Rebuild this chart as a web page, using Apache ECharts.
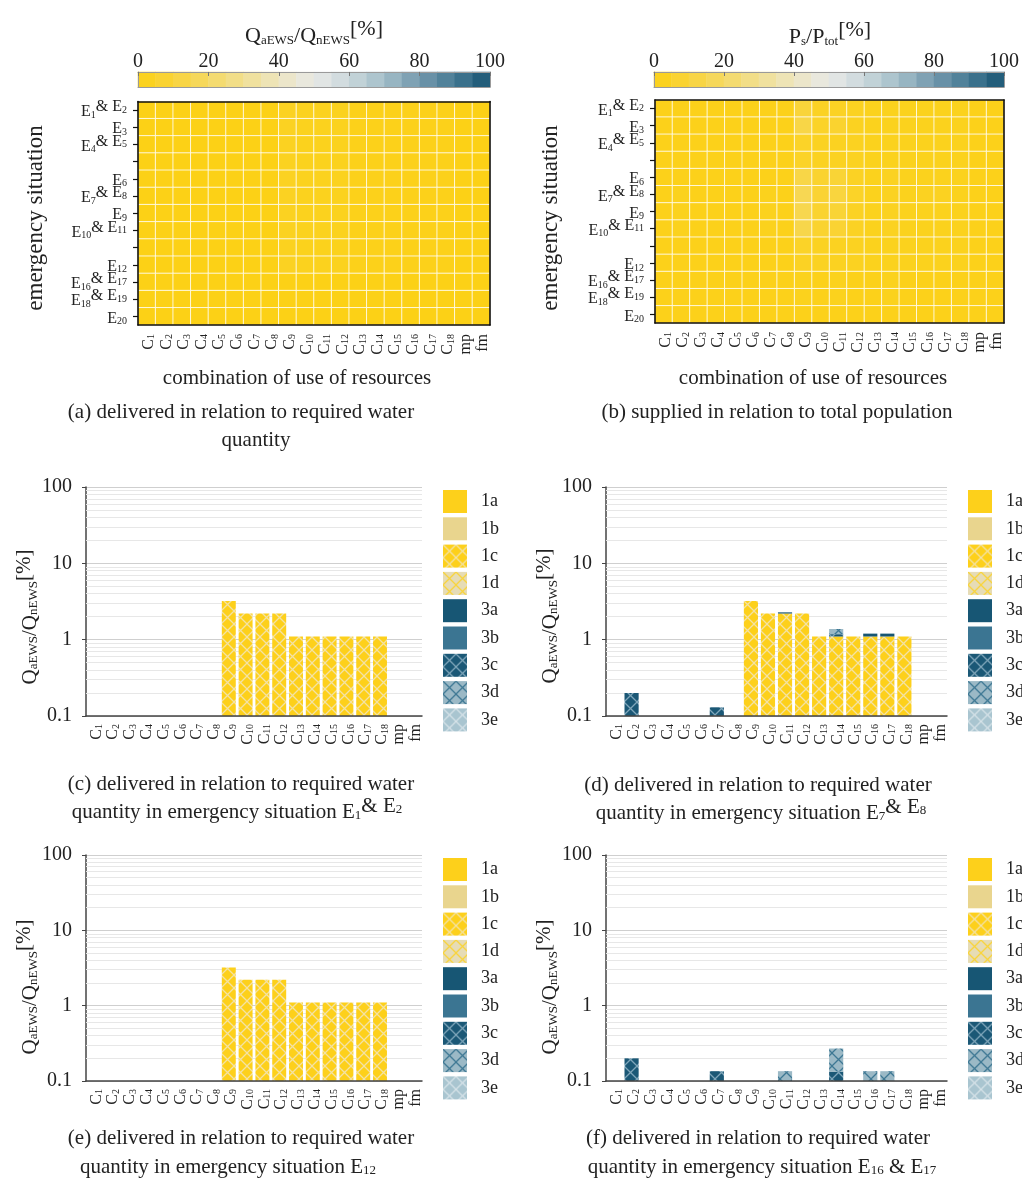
<!DOCTYPE html>
<html><head><meta charset="utf-8">
<script src="https://cdn.jsdelivr.net/npm/echarts@6/dist/echarts.min.js"></script>
<style>html,body{margin:0;padding:0;background:#fff}#c{width:1022px;height:1193px}</style>
</head><body><div id="c"></div>
<script>
// ---------- DATA ----------
const resources = ['C1','C2','C3','C4','C5','C6','C7','C8','C9','C10','C11','C12','C13','C14','C15','C16','C17','C18','mp','fm'];
const situations = ['E1&E2','E3','E4&E5',' ','E6','E7&E8','E9','E10&E11','  ','E12','E16&E17','E18&E19','E20'];
const colorbarSteps = [2.5,7.5,12.5,17.5,22.5,27.5,32.5,37.5,42.5,47.5,52.5,57.5,62.5,67.5,72.5,77.5,82.5,87.5,92.5,97.5];
const colorbarTicks = [0,20,40,60,80,100];
// (a) Q_aEWS/Q_nEWS [%] per emergency situation (rows) and combination (cols)
const heatA = [
  [0,0,0,0,0,0,0,0,3.2,2.2,2.2,2.2,1.1,1.1,1.1,1.1,1.1,1.1,0,0],
  [0,0,0,0,0,0,0,0,3.4,2.3,2.3,2.3,1.2,1.2,1.2,1.2,1.2,1.2,0,0],
  [0,0.1,0,0,0,0,0.1,0,3.0,2.0,2.0,2.0,1.0,1.1,1.0,1.0,1.0,1.0,0,0],
  [0,0.1,0,0,0,0,0.1,0,2.8,1.9,1.9,1.9,1.0,1.0,1.0,1.0,1.0,1.0,0,0],
  [0,0.2,0,0,0,0,0.1,0,3.3,2.2,2.3,2.2,1.1,1.3,1.1,1.2,1.2,1.1,0,0],
  [0,0.2,0,0,0,0,0.13,0,3.2,2.2,2.3,2.2,1.1,1.4,1.1,1.2,1.2,1.1,0,0],
  [0,0.2,0,0,0,0,0.1,0,3.1,2.1,2.2,2.1,1.1,1.3,1.1,1.1,1.1,1.1,0,0],
  [0,0.2,0,0,0,0,0.1,0,3.0,2.1,2.1,2.1,1.1,1.2,1.1,1.1,1.1,1.1,0,0],
  [0,0.1,0,0,0,0,0.1,0,2.6,1.8,1.8,1.8,0.9,1.0,0.9,0.9,0.9,0.9,0,0],
  [0,0,0,0,0,0,0,0,3.2,2.2,2.2,2.2,1.1,1.1,1.1,1.1,1.1,1.1,0,0],
  [0,0.2,0,0,0,0,0.13,0,0,0,0.13,0,0,0.27,0,0.13,0.13,0,0,0],
  [0,0.2,0,0,0,0,0.1,0,0,0,0.1,0,0,0.2,0,0.1,0.1,0,0,0],
  [0,0.1,0,0,0,0,0.1,0,0,0,0.1,0,0,0.1,0,0,0,0,0,0]
];
// (b) P_s/P_tot [%]
const heatB = [
  [1,1,1,1,1,1,1,1,10,4,4,3,2,2,2,2,2,2,1,1],
  [1,1,1,1,1,1,1,1,13,5,7,3,2,2,2,2,2,2,1,1],
  [1,1,1,1,1,1,1,1,5,3,3,3,2,2,2,2,2,2,1,1],
  [1,1,1,1,1,1,1,1,5,3,3,3,2,2,2,2,2,2,1,1],
  [1,1,1,1,1,1,1,1,13,7,9,4,2,3,2,2,2,2,1,1],
  [1,2,1,1,1,1,2,1,16,8,11,5,2,3,2,3,3,2,1,1],
  [1,2,1,1,1,1,2,1,15,7,9,4,2,3,2,2,2,2,1,1],
  [1,2,1,1,1,1,2,1,14,7,8,4,2,3,2,2,2,2,1,1],
  [1,1,1,1,1,1,1,1,5,3,3,3,2,2,2,2,2,2,1,1],
  [1,1,1,1,1,1,1,1,4,3,3,3,2,2,2,2,2,2,1,1],
  [1,1,1,1,1,1,1,1,2,1,2,1,1,2,1,1,1,1,1,1],
  [1,1,1,1,1,1,1,1,2,1,2,1,1,2,1,1,1,1,1,1],
  [1,1,1,1,1,1,1,1,1,1,1,1,1,1,1,1,1,1,1,1]
];
const seriesNames = ['1a','1b','1c','1d','3a','3b','3c','3d','3e'];
const minorGrid = [0.2,0.3,0.4,0.5,0.6,0.7,0.8,0.9,2,3,4,5,6,7,8,9,20,30,40,50,60,70,80,90];
const _ = null;
// (c) E1 & E2
const c_1c = [_,_,_,_,_,_,_,_,3.2,2.2,2.2,2.2,1.1,1.1,1.1,1.1,1.1,1.1,_,_];
// (d) E7 & E8
const d_1c = [_,_,_,_,_,_,_,_,3.2,2.2,2.2,2.2,1.1,1.1,1.1,1.1,1.1,1.1,_,_];
const d_3a = [_,_,_,_,_,_,_,_,_,_,0.08,_,_,_,_,0.1,0.1,_,_,_];
const d_3c = [_,0.2,_,_,_,_,0.13,_,_,_,_,_,_,0.08,_,_,_,_,_,_];
const d_3d = [_,_,_,_,_,_,_,_,_,_,_,_,_,0.2,_,_,_,_,_,_];
// (e) E12
const e_1c = [_,_,_,_,_,_,_,_,3.2,2.2,2.2,2.2,1.1,1.1,1.1,1.1,1.1,1.1,_,_];
// (f) E16 & E17
const f_3c = [_,0.2,_,_,_,_,0.135,_,_,_,_,_,_,0.133,_,_,_,_,_,_];
const f_3d = [_,_,_,_,_,_,_,_,_,_,0.135,_,_,0.137,_,0.135,0.135,_,_,_];

// ---------- STYLE ----------
const FF = 'Liberation Serif';
const TXT = '#222';
const cmap = ['#FCD116','#F9D43A','#F5D964','#F1DF92','#EDE5C0','#E8E9E6','#CBD8DC','#A3BEC9','#7399AD','#457A94','#175473'];

function hatch(bg, line) {
  const n = 13;
  const cv = document.createElement('canvas');
  cv.width = n; cv.height = n;
  const g = cv.getContext('2d');
  g.fillStyle = bg; g.fillRect(0, 0, n, n);
  g.strokeStyle = line; g.lineWidth = 1.3;
  g.beginPath();
  g.moveTo(-1, -1); g.lineTo(n + 1, n + 1);
  g.moveTo(n + 1, -1); g.lineTo(-1, n + 1);
  g.stroke();
  return { image: cv, repeat: 'repeat' };
}
const fills = {
  '1a': '#FDD01B',
  '1b': '#E9D58E',
  '1c': hatch('#FDD01B', '#F3E2A4'),
  '1d': hatch('#E6DCB6', '#F9D43C'),
  '3a': '#175674',
  '3b': '#3B7592',
  '3c': hatch('#1B5876', '#7FA6BA'),
  '3d': hatch('#9BB9C6', '#3E7894'),
  '3e': hatch('#A9C5D0', '#D5E2E8')
};

function makeRich(fs) {
  const sf = Math.round(fs * 0.6), sl = Math.round(fs * 0.55), pd = Math.round(fs * 0.3);
  return {
    n: { fontFamily: FF, fontSize: fs, lineHeight: fs + 4, verticalAlign: 'bottom', color: TXT },
    s: { fontFamily: FF, fontSize: sf, lineHeight: sl, verticalAlign: 'bottom', color: TXT },
    u: { fontFamily: FF, fontSize: fs, lineHeight: fs + 4, padding: [0, 0, pd, 0], verticalAlign: 'bottom', color: TXT },
    us: { fontFamily: FF, fontSize: sf, lineHeight: sl, padding: [0, 0, pd, 0], verticalAlign: 'bottom', color: TXT }
  };
}
const rich16 = makeRich(16);
function fmtC(v) {
  const m = /^C(\d+)$/.exec(v);
  return m ? '{n|C}{s|' + m[1] + '}' : '{n|' + v + '}';
}
function fmtE(v) {
  v = v.trim();
  if (!v) return '';
  const p = v.split('&');
  if (p.length === 2) return '{n|E}{s|' + p[0].slice(1) + '}{u|& E}{us|' + p[1].slice(1) + '}';
  return '{n|E}{s|' + v.slice(1) + '}';
}

// ---------- LAYOUT ----------
const grids = [
  { left: 138, top: 72, width: 352, height: 15 },     // 0 colorbar a
  { left: 138, top: 101.5, width: 352, height: 223.5 }, // 1 heatmap a
  { left: 654, top: 72, width: 352, height: 15 },     // 2 colorbar b
  { left: 655, top: 100, width: 349, height: 223 },   // 3 heatmap b
  { left: 86, top: 487, width: 336, height: 229 },    // 4 bar c
  { left: 606, top: 487, width: 341, height: 229 },   // 5 bar d
  { left: 86, top: 855, width: 336, height: 226 },    // 6 bar e
  { left: 606, top: 855, width: 341, height: 226 }    // 7 bar f
];

const xAxis = [], yAxis = [];
function cbAxes(gi) {
  xAxis.push({ type: 'category', gridIndex: gi, data: colorbarSteps.map(String), position: 'bottom',
    axisLine: { show: true, lineStyle: { color: '#9a9a9a', width: 1 } }, axisTick: { show: false },
    axisLabel: { show: false }, splitLine: { show: false }, z: 5 });
  xAxis.push({ type: 'value', gridIndex: gi, min: colorbarTicks[0], max: colorbarTicks[colorbarTicks.length - 1], interval: 20, position: 'top',
    axisLine: { show: true, lineStyle: { color: '#9a9a9a', width: 1 } },
    axisTick: { show: true, inside: true, length: 4, lineStyle: { color: '#777' } },
    axisLabel: { fontFamily: FF, fontSize: 20, color: TXT, margin: 10, verticalAlign: 'middle' },
    splitLine: { show: false }, z: 5 });
  yAxis.push({ type: 'category', gridIndex: gi, data: ['cb'], position: 'left',
    axisLine: { show: true, lineStyle: { color: '#9a9a9a', width: 1 } }, axisTick: { show: false },
    axisLabel: { show: false }, splitLine: { show: false }, z: 5 });
  yAxis.push({ type: 'category', gridIndex: gi, data: ['cb'], position: 'right',
    axisLine: { show: true, lineStyle: { color: '#9a9a9a', width: 1 } }, axisTick: { show: false },
    axisLabel: { show: false }, splitLine: { show: false }, z: 5 });
}
function hmAxes(gi) {
  xAxis.push({ type: 'category', gridIndex: gi, data: resources, position: 'bottom',
    axisLine: { show: true, lineStyle: { color: '#111', width: 1.6 } }, axisTick: { show: false },
    axisLabel: { interval: 0, rotate: 90, margin: 9, formatter: fmtC, rich: rich16 }, splitLine: { show: false }, z: 5 });
  xAxis.push({ type: 'category', gridIndex: gi, data: resources, position: 'top',
    axisLine: { show: true, lineStyle: { color: '#111', width: 1.6 } }, axisTick: { show: false },
    axisLabel: { show: false }, splitLine: { show: false }, z: 5 });
  yAxis.push({ type: 'category', gridIndex: gi, data: situations, inverse: true, position: 'left',
    axisLine: { show: true, lineStyle: { color: '#111', width: 1.6 } },
    axisTick: { show: true, alignWithLabel: true, length: 5, lineStyle: { color: '#111', width: 1.2 } },
    axisLabel: { interval: 0, margin: 11, formatter: fmtE, rich: rich16 }, splitLine: { show: false }, z: 5 });
  yAxis.push({ type: 'category', gridIndex: gi, data: situations, inverse: true, position: 'right',
    axisLine: { show: true, lineStyle: { color: '#111', width: 1.6 } }, axisTick: { show: false },
    axisLabel: { show: false }, splitLine: { show: false }, z: 5 });
}
function barAxes(gi) {
  xAxis.push({ type: 'category', gridIndex: gi, data: resources, position: 'bottom',
    axisLine: { show: true, lineStyle: { color: '#444', width: 1.5 } }, axisTick: { show: false },
    axisLabel: { interval: 0, rotate: 90, margin: 8, formatter: fmtC, rich: rich16 }, splitLine: { show: false }, z: 5 });
  yAxis.push({ type: 'log', logBase: 10, gridIndex: gi, min: 0.1, max: 100,
    axisLine: { show: true, lineStyle: { color: '#444', width: 1.5 } },
    axisTick: { show: true, length: 4, lineStyle: { color: '#444' } },
    axisLabel: { fontFamily: FF, fontSize: 20, color: TXT, margin: 14,
      formatter: v => String(Number(Number(v).toPrecision(1))) },
    splitLine: { show: true, lineStyle: { color: '#cfcfcf', width: 1 } } });
}
cbAxes(0); hmAxes(1); cbAxes(2); hmAxes(3);
barAxes(4); barAxes(5); barAxes(6); barAxes(7);
// axis indices: cb a x0,x1 y0,y1 | hm a x2,x3 y2,y3 | cb b x4,x5 y4,y5 | hm b x6,x7 y6,y7 | bars x8..x11 y8..y11

function toCells(matrix) {
  const out = [];
  matrix.forEach((row, r) => row.forEach((v, c) => out.push([c, r, v])));
  return out;
}
const series = [
  { type: 'heatmap', xAxisIndex: 0, yAxisIndex: 0, data: colorbarSteps.map((v, i) => [i, 0, v]),
    itemStyle: { borderWidth: 0 }, emphasis: { disabled: true }, silent: true },
  { type: 'heatmap', xAxisIndex: 2, yAxisIndex: 2, data: toCells(heatA),
    itemStyle: { borderColor: 'rgba(255,255,255,0.8)', borderWidth: 1 }, emphasis: { disabled: true }, silent: true },
  { type: 'heatmap', xAxisIndex: 4, yAxisIndex: 4, data: colorbarSteps.map((v, i) => [i, 0, v]),
    itemStyle: { borderWidth: 0 }, emphasis: { disabled: true }, silent: true },
  { type: 'heatmap', xAxisIndex: 6, yAxisIndex: 6, data: toCells(heatB),
    itemStyle: { borderColor: 'rgba(255,255,255,0.8)', borderWidth: 1 }, emphasis: { disabled: true }, silent: true }
];

function stackData(segMap) {
  const cum = resources.map(() => 0);
  const out = {};
  seriesNames.forEach(name => {
    out[name] = [];
    const arr = segMap[name];
    if (!arr) return;
    arr.forEach((v, i) => {
      if (v == null || v <= 0) return;
      const lo = Math.max(cum[i], 0.1);
      cum[i] += v;
      out[name].push([i, lo, cum[i]]);
    });
  });
  return out;
}
function makeRender(fill) {
  return function (params, api) {
    const cat = api.value(0), lo = api.value(1), hi = api.value(2);
    const p0 = api.coord([cat, lo]);
    const p1 = api.coord([cat, hi]);
    const bw = api.size([1, 0])[0] * 0.83;
    return { type: 'rect', shape: { x: p0[0] - bw / 2, y: p1[1], width: bw, height: p0[1] - p1[1] },
      style: { fill: fill } };
  };
}
const panels = [
  { ax: 8, segs: { '1c': c_1c } },
  { ax: 9, segs: { '1c': d_1c, '3a': d_3a, '3c': d_3c, '3d': d_3d } },
  { ax: 10, segs: { '1c': e_1c } },
  { ax: 11, segs: { '3c': f_3c, '3d': f_3d } }
];
panels.forEach(p => {
  series.push({ type: 'line', xAxisIndex: p.ax, yAxisIndex: p.ax, data: [], silent: true, z: 1,
    markLine: { silent: true, symbol: 'none', animation: false, z: 1, label: { show: false },
      lineStyle: { color: '#e7e7e7', width: 1, type: 'solid' },
      data: minorGrid.map(v => ({ yAxis: v })) } });
  const st = stackData(p.segs);
  seriesNames.forEach(name => {
    series.push({ type: 'custom', name: name, xAxisIndex: p.ax, yAxisIndex: p.ax, z: 3, silent: true,
      data: st[name], dimensions: ['x', 'lo', 'hi'], encode: { x: 0, y: [1, 2] },
      itemStyle: { color: fills[name] }, renderItem: makeRender(fills[name]) });
  });
});

const legendPos = [[443, 490], [968, 490], [443, 858], [968, 858]];
const legend = legendPos.map(([l, t]) => ({
  data: seriesNames, orient: 'vertical', left: l, top: t, itemWidth: 24, itemHeight: 23, itemGap: 4.3,
  icon: 'rect', selectedMode: false, padding: 0,
  textStyle: { fontFamily: FF, fontSize: 18, color: TXT, padding: [0, 0, 0, 9] }
}));

function gtext(x, y, text, fs, rot) {
  return { type: 'text', x: x, y: y, rotation: rot || 0, silent: true, z: 10,
    style: { text: text, rich: makeRich(fs), fontFamily: FF, fontSize: fs, fill: TXT,
      align: 'center', verticalAlign: 'middle' } };
}
const qLabel = '{n|Q}{s|aEWS}{n|/Q}{s|nEWS}{u|[%]}';
const graphic = [
  gtext(314, 34, qLabel, 22),
  gtext(830, 35, '{n|P}{s|s}{n|/P}{s|tot}{u|[%]}', 22),
  gtext(34, 218, '{n|emergency situation}', 23, Math.PI / 2),
  gtext(549, 218, '{n|emergency situation}', 23, Math.PI / 2),
  gtext(297, 376, '{n|combination of use of resources}', 21),
  gtext(813, 376, '{n|combination of use of resources}', 21),
  gtext(28, 617, qLabel, 21, Math.PI / 2),
  gtext(548, 616, qLabel, 21, Math.PI / 2),
  gtext(28, 987, qLabel, 21, Math.PI / 2),
  gtext(548, 987, qLabel, 21, Math.PI / 2),
  gtext(241, 410, '{n|(a) delivered in relation to required water}', 21),
  gtext(256, 438, '{n|quantity}', 21),
  gtext(777, 410, '{n|(b) supplied in relation to total population}', 21),
  gtext(241, 782, '{n|(c) delivered in relation to required water}', 21),
  gtext(237, 810, '{n|quantity in emergency situation E}{s|1}{u|& E}{us|2}', 21),
  gtext(758, 783, '{n|(d) delivered in relation to required water}', 21),
  gtext(761, 811, '{n|quantity in emergency situation E}{s|7}{u|& E}{us|8}', 21),
  gtext(241, 1136, '{n|(e) delivered in relation to required water}', 21),
  gtext(228, 1165, '{n|quantity in emergency situation E}{s|12}', 21),
  gtext(758, 1136, '{n|(f) delivered in relation to required water}', 21),
  gtext(762, 1165, '{n|quantity in emergency situation E}{s|16}{n| & E}{s|17}', 21)
];

const option = {
  animation: false,
  backgroundColor: '#fff',
  textStyle: { fontFamily: FF },
  visualMap: { type: 'continuous', show: false, min: 0, max: 100, dimension: 2, seriesIndex: [0, 1, 2, 3],
    inRange: { color: cmap } },
  grid: grids,
  xAxis: xAxis,
  yAxis: yAxis,
  legend: legend,
  series: series,
  graphic: graphic
};
const chart = echarts.init(document.getElementById('c'), null, { renderer: 'canvas' });
chart.setOption(option);
</script>
</body></html>
